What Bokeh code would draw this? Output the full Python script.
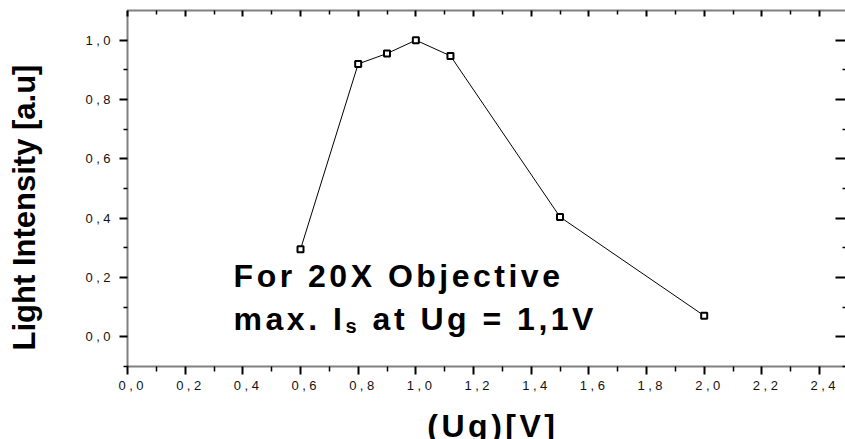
from math import pi

from bokeh.embed import file_html
from bokeh.layouts import column, row
from bokeh.models import (ColumnDataSource, FixedTicker, InlineStyleSheet, Label,
                          LinearAxis, Range1d)
from bokeh.plotting import figure
from bokeh.resources import INLINE

# Gate voltage Ug [V] and normalised light intensity [a.u]
ug = [0.6, 0.8, 0.9, 1.0, 1.12, 1.5, 2.0]
intensity = [0.295, 0.92, 0.955, 1.0, 0.947, 0.404, 0.071]

# Axis ticks and their (comma-decimal) labels
x_ticks = [0.0, 0.2, 0.4, 0.6, 0.8, 1.0, 1.2, 1.4, 1.6, 1.8, 2.0, 2.2, 2.4]
x_tick_labels = ["0,0", "0,2", "0,4", "0,6", "0,8", "1,0", "1,2", "1,4",
                 "1,6", "1,8", "2,0", "2,2", "2,4"]
x_minor_ticks = [0.1, 0.3, 0.5, 0.7, 0.9, 1.1, 1.3, 1.5, 1.7, 1.9, 2.1, 2.3]
y_ticks = [0.0, 0.2, 0.4, 0.6, 0.8, 1.0]
y_tick_labels = ["0,0", "0,2", "0,4", "0,6", "0,8", "1,0"]
y_minor_ticks = [-0.1, 0.1, 0.3, 0.5, 0.7, 0.9]

FONT = "Liberation Sans"
W, H = 845, 439
YLAB_W = 48          # strip holding the y-axis title
XLAB_H = 35          # strip holding the x-axis title
TRACKING = InlineStyleSheet(css=":host { letter-spacing: 3.5px; }")

# ---------------------------------------------------------------- y-axis title
ytitle = figure(width=YLAB_W, height=H, x_range=Range1d(0, YLAB_W), y_range=Range1d(0, H),
                output_backend="svg", toolbar_location=None,
                x_axis_location=None, y_axis_location=None,
                min_border=0, outline_line_color=None)
ytitle.grid.visible = False
ytitle.add_layout(Label(x=24, y=232, text="Light Intensity [a.u]", angle=pi / 2,
                        text_align="center", text_baseline="alphabetic",
                        text_font=FONT, text_font_style="bold", text_font_size="31px",
                        text_color="black"))

# ---------------------------------------------------------------- main plot
p = figure(width=W - YLAB_W, height=H - XLAB_H,
           x_range=Range1d(0, 2.49), y_range=Range1d(-0.1, 1.1),
           output_backend="svg", toolbar_location=None,
           min_border_left=79, min_border_right=0, min_border_top=10, min_border_bottom=38,
           outline_line_color=None)
p.grid.visible = False
p.stylesheets = [TRACKING]

FRAME_DASH = "1 1"


def style_axis(ax, ticks, minor, labels, tick_in, tick_out, minor_in, minor_out,
               show_labels=True, show_line=True):
    ax.ticker = FixedTicker(ticks=ticks, minor_ticks=minor)
    ax.major_tick_in = tick_in
    ax.major_tick_out = tick_out
    ax.minor_tick_in = minor_in
    ax.minor_tick_out = minor_out
    ax.major_tick_line_color = "black"
    ax.major_tick_line_width = 2
    ax.minor_tick_line_color = "black"
    ax.minor_tick_line_width = 1.5
    if show_line:
        ax.axis_line_color = "black"
        ax.axis_line_width = 2
        ax.axis_line_dash = FRAME_DASH
    else:
        ax.axis_line_color = None
    if show_labels:
        ax.major_label_overrides = dict(zip(ticks, labels))
        ax.major_label_text_font = FONT
        ax.major_label_text_font_size = "13px"
        ax.major_label_text_color = "#111111"
    else:
        ax.major_label_text_color = None
        ax.major_label_text_font_size = "1px"
        ax.major_label_standoff = 0


xaxis = p.xaxis[0]
yaxis = p.yaxis[0]
style_axis(xaxis, x_ticks, x_minor_ticks, x_tick_labels, 0, 8, 0, 5)
style_axis(yaxis, y_ticks, y_minor_ticks, y_tick_labels, 0, 8, 0, 4)
xaxis.major_label_standoff = 6
yaxis.major_label_standoff = 16

top_axis = LinearAxis()
style_axis(top_axis, x_ticks, x_minor_ticks, x_tick_labels, 6, 0, 4, 0, show_labels=False)
p.add_layout(top_axis, "above")

right_axis = LinearAxis()
style_axis(right_axis, y_ticks, y_minor_ticks, y_tick_labels, 10, 0, 3, 0,
           show_labels=False, show_line=False)
p.add_layout(right_axis, "right")

# measured curve
src = ColumnDataSource(dict(ug=ug, intensity=intensity))
p.line("ug", "intensity", source=src, line_color="black", line_width=1)
p.scatter("ug", "intensity", source=src, marker="square", size=6,
          fill_color="white", line_color="black", line_width=2)

big = dict(text_font=FONT, text_font_style="bold", text_font_size="32px",
           text_color="black", text_align="left", text_baseline="alphabetic")

# annotation text
ANNOT_X = 0.368
LINE1_Y = 0.206
LINE2_Y = 0.059
p.add_layout(Label(x=ANNOT_X, y=LINE1_Y, text="For 20X Objective", **big))
p.add_layout(Label(x=ANNOT_X, y=LINE2_Y, text="max. I", **big))
p.add_layout(Label(x=ANNOT_X, y=LINE2_Y, x_offset=112, y_offset=-7, text="s",
                   **dict(big, text_font_size="20px")))
p.add_layout(Label(x=ANNOT_X, y=LINE2_Y, x_offset=139, text="at Ug = 1,1V", **big))

# ---------------------------------------------------------------- x-axis title
xtitle = figure(width=W - YLAB_W, height=XLAB_H,
                x_range=Range1d(0, W - YLAB_W), y_range=Range1d(0, XLAB_H),
                output_backend="svg", toolbar_location=None,
                x_axis_location=None, y_axis_location=None,
                min_border=0, outline_line_color=None)
xtitle.grid.visible = False
xtitle.stylesheets = [TRACKING]
xtitle.add_layout(Label(x=392, y=14, text="(Ug)[V]", **dict(big, text_align="center")))

layout = row(ytitle, column(p, xtitle))
open("out.html", "w").write(file_html(layout, INLINE))
